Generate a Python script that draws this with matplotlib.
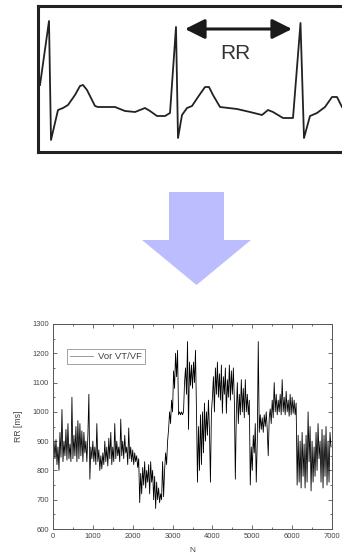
import matplotlib
matplotlib.use("Agg")
import matplotlib.pyplot as plt
from matplotlib.ticker import MultipleLocator
import numpy as np

plt.rcParams["font.family"] = ["Liberation Sans", "DejaVu Sans"]

# ECG sketch (box pixel units)
ecg_x = [40, 49, 51, 58, 63, 68, 75, 80, 83, 87, 95, 98, 115, 125, 135, 140, 145, 150,
         157, 165, 170, 176, 178, 182, 187, 192, 198, 205, 209, 213, 220, 237, 250, 262,
         268, 273, 283, 293, 300.5, 304, 310, 317, 325, 332, 337, 342]
ecg_y = [85, 21, 140, 110, 108, 105, 95, 86, 85, 90, 106, 107, 107, 111, 112, 110, 108, 111,
         116, 116, 113, 27, 138, 115, 108, 106, 97, 87, 87, 95, 107, 109, 112, 115,
         110, 112, 118, 118, 23, 138, 116, 113, 107, 97, 97, 107]

# RR series, one value every 25 beats
rr = [
    870, 900, 840, 905, 820, 880, 800, 930, 845, 1008, 830, 900, 850, 940, 835, 960, 840, 890, 830, 1050,
    840, 920, 850, 950, 830, 970, 840, 960, 850, 935, 830, 930, 860, 900, 830, 920, 1060, 770, 880, 840,
    900, 830, 880, 820, 960, 830, 870, 800, 850, 805, 860, 820, 900, 830, 880, 815, 910, 840, 930, 820,
    880, 830, 960, 840, 900, 850, 880, 830, 975, 850, 900, 840, 920, 860, 880, 820, 945, 840, 880, 830,
    870, 820, 860, 830, 850, 810, 840, 690, 790, 720, 810, 750, 830, 740, 800, 760, 820, 720, 830, 760,
    800, 700, 780, 670, 760, 700, 740, 690, 720, 700, 830, 710, 800, 860, 820, 900, 940, 1000, 960, 1040,
    1000, 1140, 1080, 1200, 1120, 1210, 990, 1000, 990, 1000, 990, 1000, 1100, 1150, 1060, 1240, 940, 1170, 1090, 1160,
    1080, 1170, 1100, 1210, 1000, 760, 950, 800, 990, 820, 1000, 860, 1030, 900, 1000, 920, 1040, 940, 760, 1000,
    1050, 1120, 1000, 1150, 1060, 1170, 1050, 1130, 1040, 1160, 995, 1120, 1060, 1150, 995, 1110, 1050, 1160, 1040, 1140,
    1060, 1150, 1040, 770, 1000, 1100, 960, 1060, 990, 1110, 1000, 1080, 980, 1110, 1000, 1060, 990, 1040, 750, 880,
    800, 920, 860, 960, 760, 900, 1240, 930, 990, 940, 980, 930, 990, 950, 1000, 940, 850, 980, 1010, 960,
    1040, 980, 1100, 1000, 1060, 990, 1040, 1000, 1060, 990, 1110, 1000, 1050, 990, 1070, 1000, 1040, 985, 1060, 990,
    1050, 995, 1040, 990, 1030, 750, 920, 760, 900, 740, 930, 780, 890, 740, 920, 760, 1000, 830, 950, 730,
    900, 760, 880, 780, 930, 800, 960, 840, 900, 760, 940, 740, 920, 780, 950, 750, 900, 760, 930, 880,
]
beats = np.arange(len(rr)) * 25

W, H = 342, 556
fig = plt.figure(figsize=(W / 100, H / 100), dpi=100)

# background overlay for the big blue arrow (pixel coords)
bg = fig.add_axes([0, 0, 1, 1])
bg.set_xlim(0, W)
bg.set_ylim(H, 0)
bg.axis("off")
bg.arrow(196.5, 192, 0, 93, width=55, head_width=109, head_length=45,
         length_includes_head=True, color="#BBBDFE", lw=0)

# ECG panel
ecg = fig.add_axes([38 / W, 1 - 152 / H, (346 - 38) / W, 146 / H])
ecg.set_xlim(38, 346)
ecg.set_ylim(152, 6)
ecg.plot(ecg_x, ecg_y, color="#222222", lw=1.3)
ecg.annotate("", xy=(185, 29), xytext=(292, 29),
             arrowprops=dict(arrowstyle="<|-|>", mutation_scale=30, lw=2.2,
                             color="#1a1a1a", shrinkA=0, shrinkB=0))
ecg.text(235, 53, "RR", fontsize=15, color="#333333", ha="center", va="center")
ecg.set_xticks([])
ecg.set_yticks([])
for s in ecg.spines.values():
    s.set_linewidth(2.2)
    s.set_color("#222222")
ecg.spines["right"].set_visible(False)

# RR plot
ax = fig.add_axes([53 / W, 1 - 529 / H, 279 / W, 205 / H])
ax.plot(beats, rr, color="black", lw=0.6, label="Vor VT/VF")
ax.set_xlim(0, 7000)
ax.set_ylim(600, 1300)
ax.xaxis.set_major_locator(MultipleLocator(1000))
ax.xaxis.set_minor_locator(MultipleLocator(500))
ax.yaxis.set_major_locator(MultipleLocator(100))
ax.yaxis.set_minor_locator(MultipleLocator(50))
ax.tick_params(which="both", direction="in", top=True, right=True,
               labelsize=5.4, labelcolor="#444444", color="#555555", width=0.6, pad=3)
ax.tick_params(which="major", length=3)
ax.tick_params(which="minor", length=1.6)
for s in ax.spines.values():
    s.set_linewidth(0.7)
    s.set_color("#555555")
ax.set_xlabel("N", fontsize=6, color="#444444", va="center")
ax.set_ylabel("RR [ms]", fontsize=6.2, color="#444444", va="center")
ax.xaxis.set_label_coords(0.498, -0.105)
ax.yaxis.set_label_coords(-0.122, 0.5)
leg = ax.legend(loc="upper left", bbox_to_anchor=(67 / W, 1 - 349 / H),
                bbox_transform=fig.transFigure, fontsize=6.8, handlelength=2.4,
                fancybox=False, borderaxespad=0, borderpad=0.3, handletextpad=0.6)
leg.get_frame().set_edgecolor("#777777")
leg.get_frame().set_linewidth(0.6)
for t in leg.get_texts():
    t.set_color("#444444")
for h in leg.get_lines():
    h.set_color("#999999")
    h.set_linewidth(0.7)

fig.savefig("out.png", dpi=100)
